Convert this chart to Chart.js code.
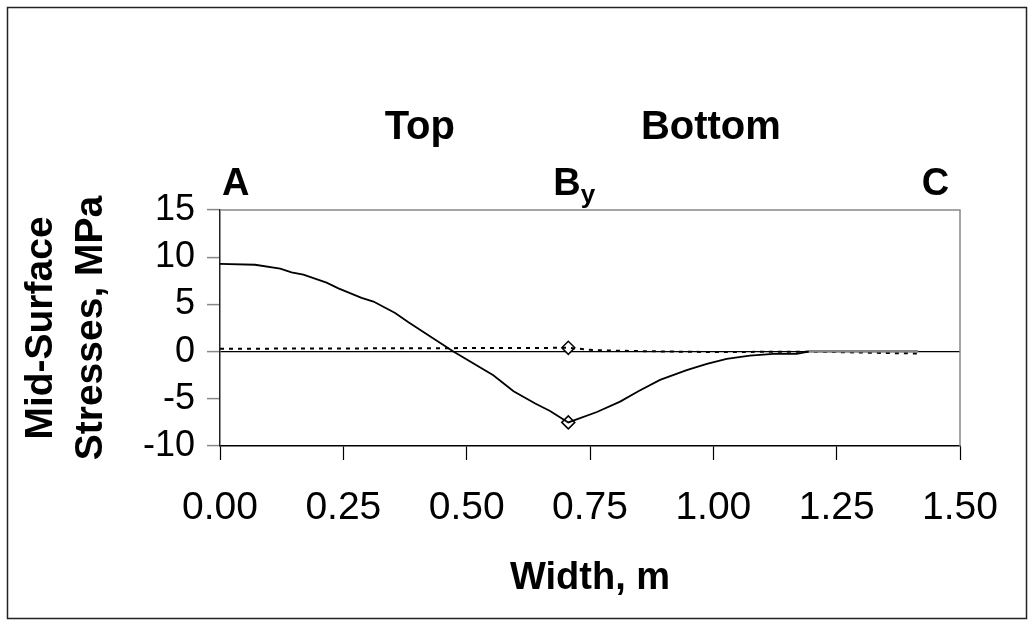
<!DOCTYPE html>
<html lang="en">
<head>
    <meta charset="UTF-8">
    <title>Mid-Surface Stresses</title>
    <script src="https://cdn.jsdelivr.net/npm/chart.js"></script>
    <style>
        body {
            margin: 0;
            background: #fff;
        }
    </style>
</head>
<body>
    <canvas id="stressChart" width="1034" height="626"></canvas>

    <script>
        // Solid curve
        const solidX = [0.000, 0.071, 0.122, 0.145, 0.169, 0.216, 0.240, 0.287, 0.311, 0.355, 0.382,
                        0.473, 0.554, 0.595, 0.639, 0.669, 0.706, 0.764, 0.811, 0.848, 0.892, 0.946,
                        0.987, 1.027, 1.074, 1.122, 1.169, 1.193];
        const solidY = [9.3, 9.2, 8.8, 8.4, 8.15, 7.3, 6.7, 5.7, 5.3, 4.1, 3.1,
                        0.0, -2.5, -4.2, -5.5, -6.3, -7.5, -6.4, -5.3, -4.2, -3.0, -1.97,
                        -1.3, -0.77, -0.42, -0.25, -0.25, 0.0];

        // Dashed curve
        const dashedX = [0.000, 0.706, 0.760, 0.850, 1.000, 1.200, 1.350, 1.415];
        const dashedY = [0.3, 0.4, 0.15, 0.05, -0.05, 0.0, -0.15, -0.2];

        // Grey curve near zero at the right end
        const greyX = [1.193, 1.300, 1.415];
        const greyY = [0.03, 0.04, 0.04];

        // Diamond markers at support B
        const markerX = [0.706, 0.706];
        const markerY = [0.4, -7.5];

        // Station and region labels
        const stationNames = ['A', 'B', 'C'];
        const stationSubs = ['', 'y', ''];
        const stationX = [0.0, 0.706, 1.415];
        const regionNames = ['Top', 'Bottom'];
        const regionX = [0.405, 0.995];

        const xTicks = [0, 0.25, 0.5, 0.75, 1.0, 1.25, 1.5];
        const yTicks = [-10, -5, 0, 5, 10, 15];

        const FONT = '"Liberation Sans", Arial, sans-serif';

        function toPoints(xs, ys) {
            return xs.map((x, i) => ({ x: x, y: ys[i] }));
        }

        // White background, outer border and grey plot frame
        const framePlugin = {
            id: 'frame',
            beforeDraw(chart) {
                const ctx = chart.ctx;
                ctx.save();
                ctx.fillStyle = '#fff';
                ctx.fillRect(0, 0, chart.width, chart.height);
                ctx.strokeStyle = '#222';
                ctx.lineWidth = 1.5;
                ctx.strokeRect(7.5, 7.5, chart.width - 15, chart.height - 15);
                ctx.restore();
            },
            beforeDatasetsDraw(chart) {
                const a = chart.chartArea;
                const ctx = chart.ctx;
                ctx.save();
                ctx.strokeStyle = '#888';
                ctx.lineWidth = 1.5;
                ctx.beginPath();
                ctx.moveTo(a.left, a.top);
                ctx.lineTo(a.right, a.top);
                ctx.lineTo(a.right, a.bottom);
                ctx.stroke();
                ctx.restore();
            }
        };

        // Text labels above the plot
        const labelPlugin = {
            id: 'labels',
            afterDraw(chart) {
                const ctx = chart.ctx;
                const xs = chart.scales.x;
                ctx.save();
                ctx.fillStyle = '#000';
                ctx.textBaseline = 'alphabetic';

                ctx.font = 'bold 40px ' + FONT;
                ctx.textAlign = 'center';
                regionNames.forEach((name, i) => {
                    ctx.fillText(name, xs.getPixelForValue(regionX[i]), 139);
                });

                ctx.font = 'bold 38px ' + FONT;
                stationNames.forEach((name, i) => {
                    let px = xs.getPixelForValue(stationX[i]);
                    const w = ctx.measureText(name).width;
                    if (i === 0) px += 2;
                    else if (i === 1) px -= 15;
                    else px = px - w / 2 + 13;
                    ctx.textAlign = 'left';
                    ctx.font = 'bold 38px ' + FONT;
                    ctx.fillText(name, px, 195);
                    if (stationSubs[i]) {
                        ctx.font = 'bold 26px ' + FONT;
                        ctx.fillText(stationSubs[i], px + w, 203);
                    }
                });
                ctx.restore();
            }
        };

        const ctx = document.getElementById('stressChart').getContext('2d');
        new Chart(ctx, {
            type: 'line',
            data: {
                datasets: [
                    {
                        label: 'solid',
                        data: toPoints(solidX, solidY),
                        borderColor: '#000',
                        borderWidth: 1.8,
                        pointRadius: 0,
                        tension: 0,
                        fill: false
                    },
                    {
                        label: 'grey',
                        data: toPoints(greyX, greyY),
                        borderColor: '#888',
                        borderWidth: 2.5,
                        pointRadius: 0,
                        tension: 0,
                        fill: false
                    },
                    {
                        label: 'dashed',
                        data: toPoints(dashedX, dashedY),
                        borderColor: '#000',
                        borderWidth: 2,
                        borderDash: [4, 5],
                        pointRadius: 0,
                        tension: 0,
                        fill: false
                    },
                    {
                        label: 'markers',
                        data: toPoints(markerX, markerY),
                        showLine: false,
                        pointStyle: 'rectRot',
                        pointRadius: 6.5,
                        pointBackgroundColor: '#fff',
                        pointBorderColor: '#000',
                        pointBorderWidth: 1.5
                    }
                ]
            },
            options: {
                responsive: false,
                animation: false,
                layout: {
                    padding: { top: 210, right: 74, left: 0, bottom: 0 }
                },
                plugins: {
                    legend: { display: false },
                    tooltip: { enabled: false }
                },
                scales: {
                    x: {
                        type: 'linear',
                        min: 0,
                        max: 1.5,
                        afterFit(scale) { scale.height = 180; },
                        afterBuildTicks(scale) { scale.ticks = xTicks.map(v => ({ value: v })); },
                        ticks: {
                            color: '#000',
                            padding: 25,
                            maxRotation: 0,
                            font: { family: FONT, size: 39 },
                            callback: v => v.toFixed(2)
                        },
                        grid: {
                            drawOnChartArea: false,
                            drawTicks: true,
                            tickLength: 14,
                            tickColor: '#000',
                            tickWidth: 1.2
                        },
                        border: { display: true, color: '#000', width: 1.5 },
                        title: {
                            display: true,
                            text: 'Width, m',
                            color: '#000',
                            font: { family: FONT, size: 38, weight: 'bold' },
                            padding: { top: 0, bottom: 25 }
                        }
                    },
                    y: {
                        min: -10,
                        max: 15,
                        afterFit(scale) { scale.width = 220; },
                        afterBuildTicks(scale) { scale.ticks = yTicks.map(v => ({ value: v })); },
                        ticks: {
                            color: '#000',
                            padding: 12,
                            font: { family: FONT, size: 36 }
                        },
                        grid: {
                            drawOnChartArea: true,
                            drawTicks: true,
                            tickLength: 13,
                            tickColor: '#888',
                            tickWidth: 1.5,
                            color: c => (c.tick && c.tick.value === 0) ? '#000' : 'rgba(0,0,0,0)',
                            lineWidth: 1.2
                        },
                        border: { display: true, color: '#222', width: 1.5 },
                        title: {
                            display: true,
                            text: ['Mid-Surface', 'Stresses, MPa'],
                            color: '#000',
                            font: { family: FONT, size: 39, weight: 'bold', lineHeight: 1.28 },
                            padding: { top: 16, bottom: 0 }
                        }
                    }
                }
            },
            plugins: [framePlugin, labelPlugin]
        });
    </script>
</body>
</html>
